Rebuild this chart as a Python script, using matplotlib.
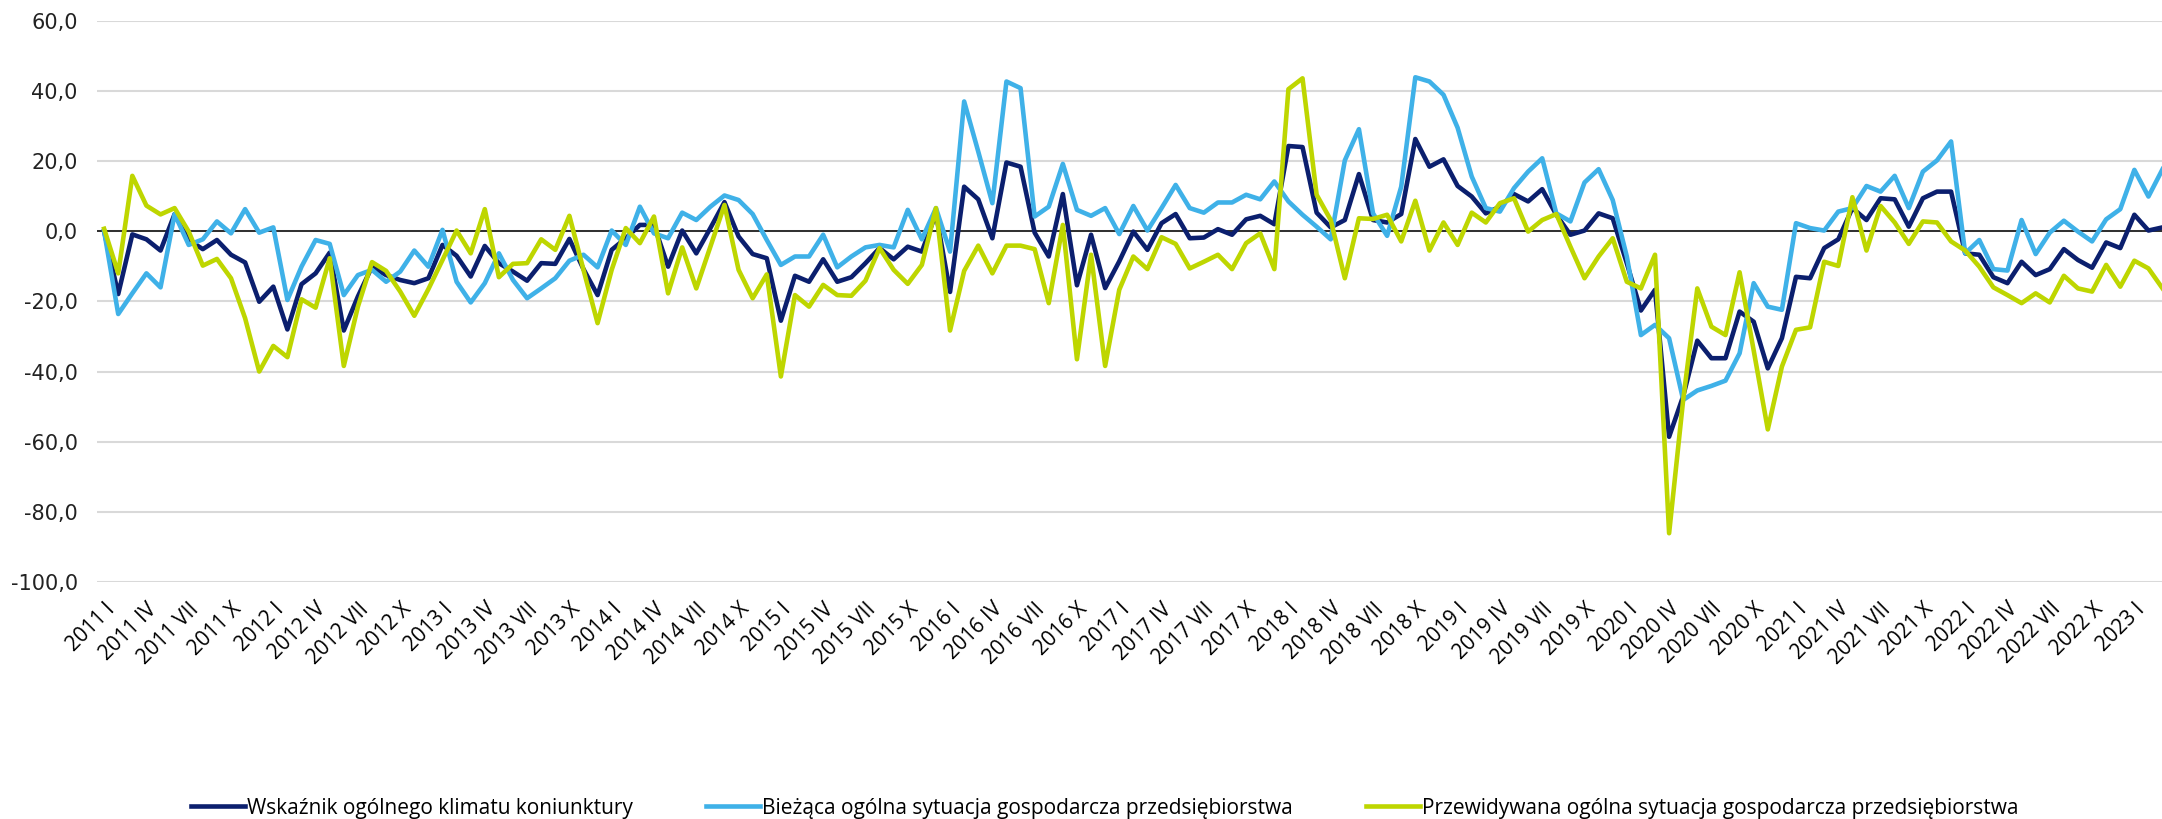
import numpy as np
import matplotlib
matplotlib.use('Agg')
import matplotlib.pyplot as plt

# monthly data, 2011 I .. 2023 III
start_year = 2011
roman = ['I', 'II', 'III', 'IV', 'V', 'VI', 'VII', 'VIII', 'IX', 'X', 'XI', 'XII']

# Wskaźnik ogólnego klimatu koniunktury
klimat = [
    0.0, -17.9, -0.9, -2.3, -5.5, 4.9, -2.5, -5.1, -2.5, -6.7, -8.9, -20.1,
    -15.8, -28.0, -15.1, -12.0, -6.1, -28.3, -18.6, -10.1, -12.5, -13.9, -14.8, -13.4,
    -3.9, -7.0, -12.9, -4.2, -9.1, -11.5, -14.1, -9.1, -9.3, -2.2, -10.8, -18.2,
    -5.3, -2.0, 1.8, 1.8, -10.1, 0.2, -6.3, 0.9, 8.3, -1.5, -6.5, -7.7,
    -25.5, -12.7, -14.4, -8.0, -14.4, -13.1, -9.1, -4.8, -8.0, -4.4, -5.8, 5.0,
    -17.3, 12.7, 9.1, -2.0, 19.6, 18.4, -0.4, -7.2, 10.6, -15.4, -1.0, -16.2,
    -8.6, -0.1, -5.3, 2.3, 4.9, -2.0, -1.8, 0.6, -1.0, 3.4, 4.4, 2.0,
    24.3, 24.0, 5.3, 1.1, 3.2, 16.3, 3.2, 2.5, 4.9, 26.3, 18.4, 20.5,
    12.9, 9.9, 5.1, 7.0, 10.6, 8.5, 12.0, 4.7, -1.0, 0.2, 5.1, 3.7,
    -9.1, -22.6, -16.7, -58.6, -47.0, -31.2, -36.2, -36.2, -22.9, -25.8, -39.1, -30.5,
    -13.0, -13.4, -4.8, -2.3, 6.6, 3.2, 9.4, 9.1, 1.3, 9.4, 11.3, 11.3,
    -6.3, -6.7, -13.1, -14.8, -8.7, -12.5, -10.8, -5.1, -8.2, -10.4, -3.2, -4.8,
    4.7, 0.2, 1.1,
]

# Bieżąca ogólna sytuacja gospodarcza przedsiębiorstwa
biezaca = [
    0.0, -23.6, -17.7, -12.0, -16.0, 4.9, -3.9, -2.3, 2.8, -0.6, 6.3, -0.4,
    1.1, -19.6, -10.1, -2.5, -3.6, -18.2, -12.5, -11.0, -14.4, -11.5, -5.5, -10.1,
    0.4, -14.4, -20.3, -14.8, -6.3, -13.9, -19.1, -16.3, -13.4, -8.4, -6.7, -10.3,
    0.2, -3.9, 7.0, -0.6, -2.0, 5.3, 3.2, 7.0, 10.2, 8.9, 4.9, -2.5,
    -9.6, -7.2, -7.2, -1.0, -10.3, -7.2, -4.6, -3.9, -4.6, 6.1, -2.3, 6.6,
    -5.8, 37.0, 22.7, 8.0, 42.7, 40.8, 4.2, 7.0, 19.2, 6.1, 4.4, 6.6,
    -0.8, 7.2, 0.2, 6.6, 13.2, 6.6, 5.3, 8.2, 8.2, 10.4, 9.1, 14.2,
    8.5, 4.7, 1.3, -2.3, 20.2, 29.1, 5.1, -1.3, 12.7, 43.9, 42.7, 38.9,
    29.5, 15.6, 6.6, 5.6, 12.3, 17.0, 20.8, 5.1, 2.8, 13.9, 17.7, 8.9,
    -7.2, -29.6, -26.7, -30.5, -48.1, -45.4, -44.1, -42.6, -34.8, -14.8, -21.5, -22.4,
    2.3, 0.9, 0.2, 5.6, 6.6, 12.9, 11.3, 15.8, 6.6, 17.0, 20.2, 25.6,
    -6.3, -2.5, -10.8, -11.2, 3.2, -6.5, -0.4, 3.0, -0.1, -2.9, 3.4, 6.3,
    17.5, 9.9, 17.7,
]

# Przewidywana ogólna sytuacja gospodarcza przedsiębiorstwa
przewidywana = [
    0.7, -12.0, 15.8, 7.3, 4.8, 6.6, -0.1, -9.8, -7.9, -13.4, -24.8, -40.0,
    -32.7, -35.9, -19.4, -21.8, -7.7, -38.4, -21.5, -8.8, -11.3, -17.2, -24.1, -16.5,
    -8.2, 0.2, -6.3, 6.3, -13.1, -9.3, -9.1, -2.3, -5.3, 4.4, -11.0, -26.2,
    -11.0, 0.9, -3.4, 4.2, -17.7, -4.6, -16.3, -4.4, 7.5, -11.0, -19.1, -12.3,
    -41.4, -18.2, -21.5, -15.3, -18.2, -18.4, -14.1, -4.8, -11.0, -15.0, -9.6, 6.6,
    -28.3, -11.3, -4.1, -12.0, -4.1, -4.1, -5.1, -20.5, 1.8, -36.5, -6.7, -38.4,
    -16.7, -7.2, -10.8, -1.7, -3.6, -10.6, -8.7, -6.7, -10.8, -3.4, -0.6, -10.8,
    40.5, 43.6, 10.4, 3.2, -13.4, 3.7, 3.5, 4.7, -2.9, 8.7, -5.5, 2.5,
    -3.9, 5.3, 2.5, 8.0, 9.4, -0.1, 3.2, 4.9, -4.4, -13.4, -7.2, -2.0,
    -14.4, -16.3, -6.7, -86.1, -48.0, -16.3, -27.2, -29.6, -11.7, -34.0, -56.5, -38.6,
    -28.1, -27.4, -8.7, -9.9, 9.7, -5.5, 7.2, 2.5, -3.6, 2.8, 2.5, -2.9,
    -5.5, -10.1, -16.0, -18.2, -20.5, -17.7, -20.3, -12.7, -16.3, -17.2, -9.6, -15.8,
    -8.4, -10.6, -16.3,
]

labels_pl = ['Wskaźnik ogólnego klimatu koniunktury',
             'Bieżąca ogólna sytuacja gospodarcza przedsiębiorstwa',
             'Przewidywana ogólna sytuacja gospodarcza przedsiębiorstwa']
colors = ['#0B1F6E', '#3FB1E8', '#BED600']

x = np.arange(len(klimat))
tick_pos = x[::3][:49]
tick_lab = [f'{start_year + p // 12} {roman[p % 12]}' for p in tick_pos]

fig = plt.figure(figsize=(21.62, 8.19), dpi=100)
ax = fig.add_axes([0.0449, 0.2894, 0.9551, 0.6852])

for series, lab, col in zip([klimat, biezaca, przewidywana], labels_pl, colors):
    ax.plot(x, series, color=col, lw=3.3, label=lab, solid_joinstyle='round')

ax.axhline(0, color='black', lw=1.1, zorder=1)
ax.set_ylim(-100, 60)
ax.set_xlim(-0.5, 145.96)
ax.set_yticks(np.arange(-100, 61, 20))
ax.set_yticklabels([f'{v:.1f}'.replace('.', ',') for v in np.arange(-100, 61, 20)],
                   fontsize=15, color='#222222', family='DejaVu Sans')
ax.yaxis.grid(True, color='#D9D9D9', lw=1.5)
ax.set_axisbelow(True)
ax.set_xticks(tick_pos)
ax.set_xticklabels(tick_lab, rotation=45, ha='right', rotation_mode='anchor',
                   fontsize=15, family='Open Sans')
ax.tick_params(axis='both', length=0)
ax.tick_params(axis='y', pad=14)
ax.tick_params(axis='x', pad=12)
for s in ax.spines.values():
    s.set_visible(False)

fig.legend(loc='center', bbox_to_anchor=(0.511, 0.0134), ncol=3, frameon=False,
           prop={'family': 'Open Sans', 'size': 15}, handlelength=2.6,
           handletextpad=0.1, columnspacing=3.5)

plt.savefig('out.png', dpi=100)
